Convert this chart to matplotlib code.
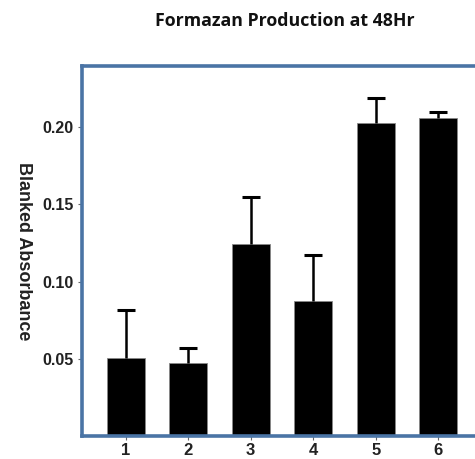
import numpy as np
import matplotlib.pyplot as plt

# data
groups = ['1', '2', '3', '4', '5', '6']
absorbance = [0.0505, 0.047, 0.1245, 0.0877, 0.2025, 0.2058]
err_upper = [0.0313, 0.010, 0.030, 0.0293, 0.0163, 0.0039]

fig = plt.figure(figsize=(4.75, 4.59), dpi=100)
ax = fig.add_axes([82 / 475, 1 - 436 / 459, 400 / 475, 370 / 459])

x = np.arange(1, len(groups) + 1)
tops = np.array(absorbance) + np.array(err_upper)
ax.bar(x, absorbance, width=0.61, color='black', edgecolor='#888888', linewidth=0.6, zorder=2)
# upper error bars only
ax.vlines(x, absorbance, tops, color='black', linewidth=1.8, zorder=3)
ax.hlines(tops, x - 0.145, x + 0.145, color='black', linewidth=2.2, zorder=3)

ax.set_xlim(0.3, 6.7)
ax.set_ylim(0, 0.2396)
ax.set_yticks([0.05, 0.10, 0.15, 0.20])
ax.set_yticklabels(['0.05', '0.10', '0.15', '0.20'])
ax.set_xticks(x)
ax.set_xticklabels(groups)

for s in ax.spines.values():
    s.set_color('#4a74a5')
    s.set_linewidth(2.6)

ax.tick_params(axis='both', colors='#666666', length=3, width=0.8, labelcolor='#222222')
ax.tick_params(axis='y', pad=3)
ax.tick_params(axis='x', pad=2)
for lab in ax.get_yticklabels():
    lab.set_fontfamily('Liberation Sans')
    lab.set_fontweight('bold')
    lab.set_fontsize(11.5)
for lab in ax.get_xticklabels():
    lab.set_fontfamily('Liberation Sans')
    lab.set_fontweight('bold')
    lab.set_fontsize(12)

ax.set_ylabel('Blanked Absorbance', rotation=270, fontfamily='Liberation Sans',
              fontweight='bold', fontsize=13, color='#222222')
ax.yaxis.set_label_coords(-0.168, 0.5)

fig.text(285 / 475, 1 - 21 / 459, 'Formazan Production at 48Hr', ha='center', va='center',
         fontfamily='Open Sans', fontweight='bold', fontsize=12.8, color='#111111')

fig.savefig('out.png', dpi=100)
